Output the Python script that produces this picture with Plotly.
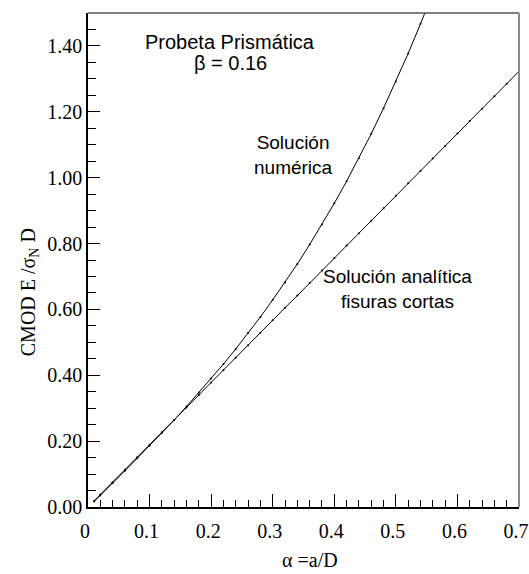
import plotly.graph_objects as go

# Data
alpha_num = [0.01, 0.02, 0.04, 0.06, 0.08, 0.10, 0.12, 0.14, 0.16, 0.18, 0.20,
             0.22, 0.24, 0.26, 0.28, 0.30, 0.32, 0.34, 0.36, 0.38, 0.40,
             0.42, 0.44, 0.46, 0.48, 0.50, 0.52, 0.54, 0.56]
cmod_num = [0.017, 0.035, 0.072, 0.110, 0.148, 0.186, 0.225, 0.264, 0.305, 0.347, 0.390,
            0.434, 0.480, 0.528, 0.577, 0.629, 0.682, 0.738, 0.797, 0.858, 0.922,
            0.989, 1.059, 1.133, 1.211, 1.292, 1.377, 1.467, 1.561]

alpha_ana = [0.01, 0.02, 0.04, 0.06, 0.08, 0.10, 0.12, 0.14, 0.16, 0.18, 0.20,
             0.22, 0.24, 0.26, 0.28, 0.30, 0.32, 0.34, 0.36, 0.38, 0.40,
             0.42, 0.44, 0.46, 0.48, 0.50, 0.52, 0.54, 0.56, 0.58, 0.60,
             0.62, 0.64, 0.66, 0.68, 0.70]
cmod_ana = [0.019, 0.038, 0.075, 0.113, 0.151, 0.189, 0.227, 0.264, 0.302, 0.340, 0.378,
            0.416, 0.453, 0.491, 0.529, 0.567, 0.605, 0.642, 0.680, 0.718, 0.756,
            0.794, 0.831, 0.869, 0.907, 0.945, 0.983, 1.020, 1.058, 1.096, 1.134,
            1.172, 1.209, 1.247, 1.285, 1.323]

x_tickvals = [0, 0.1, 0.2, 0.3, 0.4, 0.5, 0.6, 0.7]
x_ticktext = ["0", "0.1", "0.2", "0.3", "0.4", "0.5", "0.6", "0.7"]
y_tickvals = [0.0, 0.2, 0.4, 0.6, 0.8, 1.0, 1.2, 1.4]
y_ticktext = ["0.00", "0.20", "0.40", "0.60", "0.80", "1.00", "1.20", "1.40"]

serif = "Liberation Serif, Times New Roman, serif"
sans = "Liberation Sans, Arial, sans-serif"

fig = go.Figure()
fig.add_trace(go.Scatter(x=alpha_num, y=cmod_num, mode="lines+markers",
                         line=dict(color="black", width=1),
                         marker=dict(color="black", size=2),
                         name="Solución numérica", cliponaxis=True))
fig.add_trace(go.Scatter(x=alpha_ana, y=cmod_ana, mode="lines+markers",
                         line=dict(color="black", width=1),
                         marker=dict(color="black", size=2),
                         name="Solución analítica", cliponaxis=True))

fig.update_layout(
    width=529, height=574,
    margin=dict(l=88, r=10, t=13, b=67),
    paper_bgcolor="white", plot_bgcolor="white",
    showlegend=False,
    xaxis=dict(range=[0, 0.7], tickvals=x_tickvals, ticktext=x_ticktext,
               ticks="inside", ticklen=13, tickcolor="black", tickwidth=1,
               minor=dict(dtick=0.02, tick0=0, ticks="inside", ticklen=7,
                          tickcolor="black", tickwidth=1),
               showline=True, linecolor="black", linewidth=1.5,
               showgrid=False, zeroline=False, automargin=False,
               ticklabeloverflow="allow", ticklabelstandoff=5, ticklabelshift=-3,
               tickfont=dict(family=serif, size=20, color="black")),
    yaxis=dict(range=[0, 1.5], tickvals=y_tickvals, ticktext=y_ticktext,
               ticks="inside", ticklen=12, tickcolor="black", tickwidth=1,
               minor=dict(dtick=0.05, tick0=0, ticks="inside", ticklen=8,
                          tickcolor="black", tickwidth=1),
               showline=True, linecolor="black", linewidth=1.5,
               showgrid=False, zeroline=False, automargin=False,
               tickfont=dict(family=serif, size=20, color="black")),
    shapes=[
        dict(type="line", xref="paper", yref="paper", x0=0, x1=1, y0=1, y1=1,
             line=dict(color="#555555", width=1.5)),
        dict(type="line", xref="paper", yref="paper", x0=1, x1=1, y0=0, y1=1,
             line=dict(color="#8a8a8a", width=2)),
    ],
    annotations=[
        dict(text="Probeta Prismática", x=0.231, y=1.413, xref="x", yref="y",
             showarrow=False, font=dict(family=sans, size=20, color="black")),
        dict(text="β = 0.16", x=0.231, y=1.347, xref="x", yref="y",
             showarrow=False, font=dict(family=sans, size=20, color="black")),
        dict(text="Solución<br>numérica", x=0.333, y=1.07, xref="x", yref="y",
             showarrow=False, align="center",
             font=dict(family=sans, size=19, color="black")),
        dict(text="Solución analítica<br>fisuras cortas", x=0.503, y=0.662,
             xref="x", yref="y", showarrow=False, align="center",
             font=dict(family=sans, size=19, color="black")),
        dict(text="CMOD E /σ<sub>N</sub> D", x=-0.137, y=0.652, xref="paper", yref="y",
             xanchor="center", yanchor="middle", textangle=-90, showarrow=False,
             font=dict(family=serif, size=20, color="black")),
        dict(text="α =a/D", x=0.36, y=-0.108, xref="x", yref="paper",
             xanchor="center", yanchor="middle", showarrow=False,
             font=dict(family=serif, size=20, color="black")),
    ],
)

fig.write_html("out.html")
